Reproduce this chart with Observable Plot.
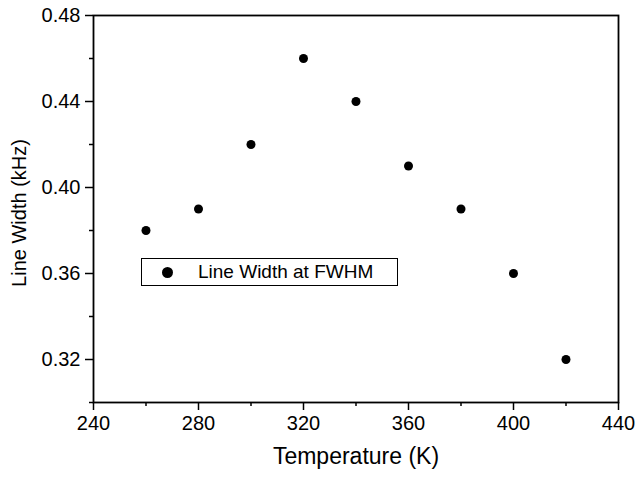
<!DOCTYPE html>
<html><head><meta charset="utf-8">
<script src="https://cdn.jsdelivr.net/npm/d3@7"></script>
<script src="https://cdn.jsdelivr.net/npm/@observablehq/plot@0.6"></script>
<style>
body{margin:0;background:#fff;font-family:"Liberation Sans",Arial,sans-serif;}
#wrap{position:relative;width:636px;height:478px;}
#legend{position:absolute;left:141px;top:258px;width:257px;height:28px;border:1px solid #000;box-sizing:border-box;background:#fff;font-size:19px;color:#000;}
#legend .dot{position:absolute;left:20px;top:7.5px;width:11px;height:11px;border-radius:50%;background:#000;}
#legend .t{position:absolute;left:56px;top:2px;white-space:nowrap;line-height:22px;}
</style></head><body>
<div id="wrap"></div>
<script>
const temperature = [260, 280, 300, 320, 340, 360, 380, 400, 420];
const lineWidth = [0.38, 0.39, 0.42, 0.46, 0.44, 0.41, 0.39, 0.36, 0.32];
const xMajor = [240, 280, 320, 360, 400, 440];
const xMinor = [260, 300, 340, 380, 420];
const yMajor = [0.32, 0.36, 0.40, 0.44, 0.48];
const yMinor = [0.30, 0.34, 0.38, 0.42, 0.46];
const seriesName = "Line Width at FWHM";
const data = temperature.map((t, i) => ({t, w: lineWidth[i]}));

const chart = Plot.plot({
  width: 636, height: 478,
  marginLeft: 93, marginRight: 18, marginTop: 15, marginBottom: 76,
  style: {fontFamily: '"Liberation Sans", Arial, sans-serif', fontSize: "20px", color: "#000", background: "#fff"},
  x: {domain: [240, 440]},
  y: {domain: [0.30, 0.48]},
  marks: [
    Plot.axisX({ticks: xMajor, tickSize: 8, tickPadding: 5, tickFormat: d => String(d), label: null, stroke: "#000", strokeWidth: 1.5}),
    Plot.axisX({ticks: xMinor, tickSize: 4, text: null, label: null, stroke: "#000", strokeWidth: 1.5}),
    Plot.axisY({ticks: yMajor, tickSize: 8, tickPadding: 5, tickFormat: d3.format(".2f"), label: null, stroke: "#000", strokeWidth: 1.5}),
    Plot.axisY({ticks: yMinor, tickSize: 4, text: null, label: null, stroke: "#000", strokeWidth: 1.5}),
    Plot.frame({stroke: "#000", strokeWidth: 1.8}),
    Plot.dot(data, {x: "t", y: "w", r: 4.5, fill: "#000", stroke: "none"}),
    Plot.text(["Temperature (K)"], {frameAnchor: "bottom", dy: 61, fontSize: 23, text: d => d}),
    Plot.text(["Line Width (kHz)"], {frameAnchor: "left", dx: -74, dy: 4, rotate: -90, textAnchor: "middle", fontSize: 20, text: d => d})
  ]
});
const wrap = document.getElementById("wrap");
wrap.appendChild(chart);
const lg = document.createElement("div");
lg.id = "legend";
lg.innerHTML = '<div class="dot"></div><div class="t"></div>';
lg.querySelector(".t").textContent = seriesName;
wrap.appendChild(lg);
</script>
</body></html>
